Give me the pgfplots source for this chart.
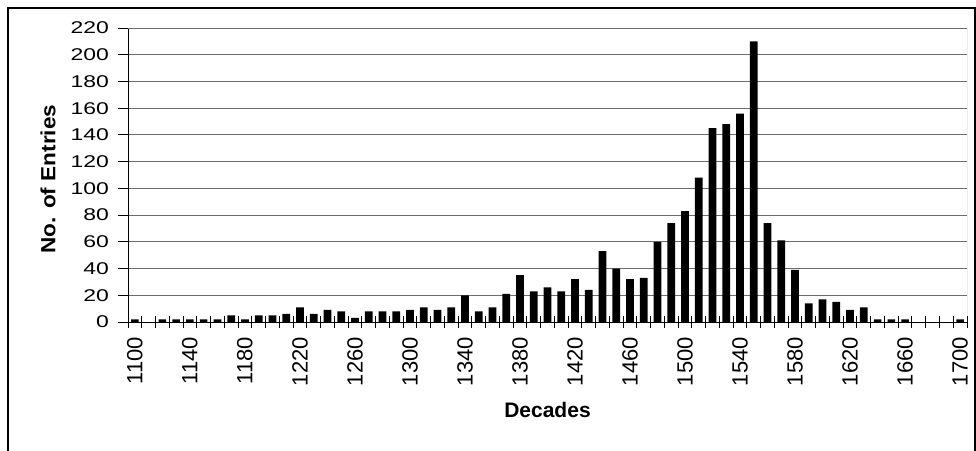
\documentclass[border=0pt]{standalone}
\usepackage{fontspec}
\setmainfont{Liberation Sans}
\newfontfamily\ytfont[FakeStretch=1.35]{Liberation Sans}
\newfontfamily\ylabfont[FakeStretch=1.1]{Liberation Sans}
\usepackage{pgfplots}
\pgfplotsset{compat=1.18}
\begin{document}
\begin{tikzpicture}
\useasboundingbox (0pt,0pt) rectangle (976pt,450pt);
\draw[line width=1.5pt] (8pt,-2pt) -- (8pt,442pt) -- (975pt,442pt) -- (975pt,-2pt);
\begin{axis}[
  at={(128pt,128pt)}, anchor=south west,
  width=839pt, height=294pt, scale only axis,
  xmin=-0.5, xmax=60.5, ymin=0, ymax=220,
  axis x line*=bottom, axis y line*=left,
  axis line style={black, line width=1pt},
  /pgf/number format/assume math mode=true,
  ytick={0,20,...,220},
  xtick={0,4,...,60},
  xticklabels={1100,1140,1180,1220,1260,1300,1340,1380,1420,1460,1500,1540,1580,1620,1660,1700},
  minor xtick={-0.5,0.5,...,60.5},
  major x tick style={draw=none},
  minor x tick style={draw=black, line width=1pt, yshift=-6pt},
  ytick style={draw=black, line width=1pt, xshift=-10pt},
  major tick length=10pt, minor tick length=12pt,
  ymajorgrids, major grid style={draw=gray!85!black, line width=1pt},
  yticklabel style={inner sep=0pt, anchor=east, font=\ytfont\fontsize{17}{20}\selectfont},
  yticklabel shift=19pt,
  xticklabel style={inner sep=0pt, rotate=90, anchor=east, font=\fontsize{22}{25}\selectfont},
  xticklabel shift=15pt,
  xlabel={Decades},
  ylabel={No. of Entries},
  xlabel style={at={(axis description cs:0.5,-0.3)}, anchor=center, font=\bfseries\fontsize{21}{24}\selectfont},
  ylabel style={at={(axis description cs:-0.0954,0.486)}, anchor=center, font=\ylabfont\bfseries\fontsize{20.5}{24}\selectfont},
]
\draw[gray!85!black, line width=1pt] (rel axis cs:0,1) -- (rel axis cs:1,1) -- (rel axis cs:1,0);
\addplot[ybar, bar width=0.56, fill=black, draw=none] coordinates {
(0,2) (1,0) (2,2) (3,2) (4,2) (5,2) (6,2) (7,5) (8,2) (9,5)
(10,5) (11,6) (12,11) (13,6) (14,9) (15,8) (16,3) (17,8) (18,8) (19,8)
(20,9) (21,11) (22,9) (23,11) (24,20) (25,8) (26,11) (27,21) (28,35) (29,23)
(30,26) (31,23) (32,32) (33,24) (34,53) (35,40) (36,32) (37,33) (38,60) (39,74)
(40,83) (41,108) (42,145) (43,148) (44,156) (45,210) (46,74) (47,61) (48,39) (49,14)
(50,17) (51,15) (52,9) (53,11) (54,2) (55,2) (56,2) (57,0) (58,0) (59,0)
(60,2)
};
\end{axis}
\end{tikzpicture}
\end{document}
